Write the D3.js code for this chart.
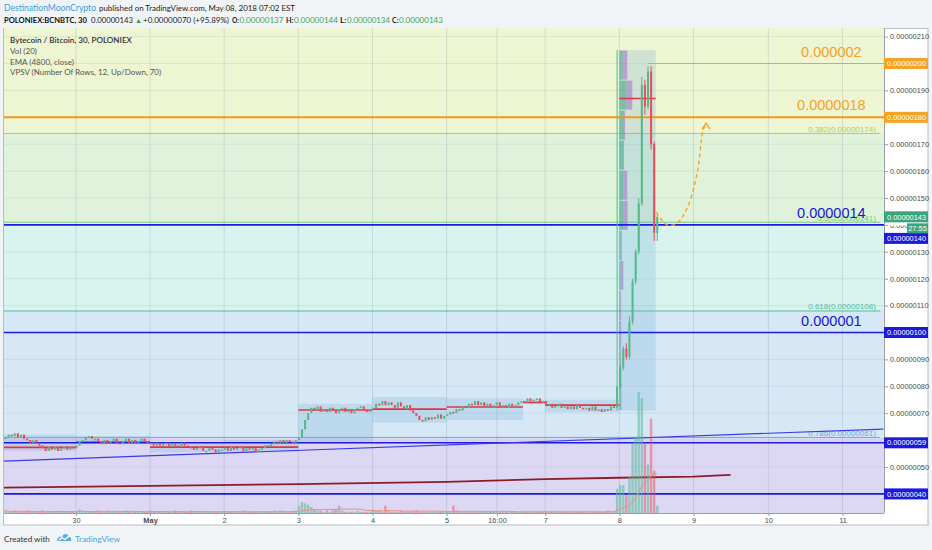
<!DOCTYPE html>
<html>
<head>
<meta charset="utf-8">
<script src="https://cdnjs.cloudflare.com/ajax/libs/d3/7.8.5/d3.min.js"></script>
<style>
html, body { margin: 0; padding: 0; background: #f1f4f7; }
svg { display: block; font-family: "Liberation Sans", Arial, sans-serif; }
</style>
</head>
<body>
<div id="chart"></div>
<script>

// prices in satoshi (1e-8 BTC), time in chart days (0 = Apr 30, 00:00)
var dayLabels = ["30", "May", "2", "3", "4", "5", "16:00", "7", "8", "9", "10", "11"];
var dayTicks  = [0, 1, 2, 3, 4, 5, 5.68, 6.33, 7.33, 8.33, 9.34, 10.34];
var priceTicks = [40, 50, 60, 70, 80, 90, 100, 110, 120, 130, 140, 150, 160, 170, 180, 190, 200, 210];

// hourly closes before the pump
var closesApr29 = [61,62,61.5,62.5,61,62,60.5, 60,59,60,59, 58,57,56,57.5,56.5,57.5,56,57,57.5,56.5,57.5,57];
var closesApr30 = [58,59.5,60,61, 61.5,60.5,60.5, 59.5,58.5,60,59,59.5,60.5,59,58.5, 59.5,60.5,59,60,59,59.5,60.5,59.5,59];
var closesMay1  = [59,58,59,58,58.5,59,57.5,58.5,58,57.5,59,58,57.5,57,56.5,57,57.5,56,56,57,56.5,55.5,56.5,56.5];
var closesMay2  = [57,56,57.5,56.5,57,57.5,56,57,56.5,57, 55.5,56.5, 57,58,57.5,58.5,59.5,59,60,59,60, 59.5,59,60];
var closesMay3  = [61,64,67.5,70,72,71,72.5,70.5,71.5,70.5,72,71,70,71.5,72,70.5,71,70,71.5,72,72.5,71,70.5,71.5];
var closesMay4  = [72,73.5,73,74.5,73,74, 73,72,74,72.5,71.5,73, 71,70,69,67.5,67, 68.5,67.5,68.5,68,69.5,68,69];
var closesMay5to8 = [69.5,70.5,70,71.5,71,72.5,72, 73.5,73,74.5,
	73,74,72.5,73.5,72,73,74,72.5,73,72,73.5,72.5,73,74,
	74.5,74,75.5,74.5,75,75.5,74, 74.5,73,73.5,72,72.5,
	73.5,72,72.5,71.5,72.5,71.5,73,72,71.5,72,71,72.5,71,71.5,70.5,71.5,71,72.5,72];

var volsApr29 = [2,1,1,2,1,1,1,2,1,1,1,1,2,1,1,1,1,1,2,1,1,1,1];
var volsApr30 = [1,3,2,1,1,1,1,2,1,1,2,1,1,1,1,1,2,1,1,1,1,1,1,1];
var volsMay1  = [2,1,1,1,1,1,1,1,2,1,1,1,1,2,1,1,1,1,1,1,1,1,1,1];
var volsMay2  = [1,1,1,1,1,1,2,1,1,1,1,1,1,1,1,1,2,1,2,1,1,1,1,2];
var volsMay3  = [6,9,8,7,5,3,2,2,1,2,1,2,3,6,2,1,1,1,1,2,1,1,1,1];
var volsMay4  = [3,2,2,1,6,2,1,1,1,2,1,1,1,1,2,1,1,1,1,1,1,1,1,1];
var volsMay5to8 = [1,1,6,2,1,1,1,1,1,1,1,1,1,1,1,1,1,1,1,1,1,1,1,1,1,1,1,1,
	1,1,1,1,1,1,1,1,1,1,1,1,1,1,1,1,1,1,1,1,1,1,1,1,2,1,1];

// the pump on May 8
var spikeO = [72, 80, 87, 94, 91, 104, 119, 130, 148, 192, 184, 197, 170, 137];
var spikeH = [205, 88, 95, 96, 106, 120, 131, 150, 195, 194, 199, 199, 171, 144];
var spikeL = [71, 79, 86, 90, 90, 103, 118, 129, 147, 181, 183, 168, 134, 134];
var spikeC = [80, 87, 94, 91, 104, 119, 130, 148, 192, 184, 197, 170, 137, 143];
var spikeV = [20, 23, 23, 15, 30, 58, 63, 100, 95, 58, 40, 78, 35, 6];

// VPSV sessions
var sesStart = [-0.97, 0, 1, 2, 3, 4, 5, 6.03, 6.33, 7.33];
var sesEnd   = [0, 1, 2, 3, 4, 5, 6.03, 6.33, 7.33, 7.82];
var sesLow   = [56, 58.5, 55.5, 55.5, 59, 66.5, 67.5, 73.5, 70.4, 71];
var sesHigh  = [62, 61.5, 59, 60, 73.5, 76, 75.5, 75, 75, 205];
var sesPoc   = [57.3, 59.3, 57.4, 57.4, 71.2, 71.5, 72.3, 74, 73, 187];
// profile rows of the last session, top to bottom
var vpUp   = [9, 20, 13, 10, 12, 10, 4, 4, 3, 3, 3, 4];
var vpDown = [13, 16, 3, 3, 10, 13, 3, 7, 2, 2, 2, 2];

// EMA (4800, close)
var emaT = [-0.97, 1, 3, 5, 6.33, 7.33, 8.33, 8.83];
var emaV = [42.3, 43.0, 43.6, 44.5, 45.5, 46.0, 46.4, 47.1];

// fibonacci retracement
var fibRatio = [0.382, 0.5, 0.618, 0.786];
var fibPrice = [174, 141, 108, 61];

// drawings
var levelPrice = [200, 180, 140, 100, 59, 40];
var levelFrom  = [7.72, -0.97, -0.97, -0.97, -0.97, -0.97];
var levelText  = ["0.000002", "0.0000018", "0.0000014", "0.000001", "", ""];
var trendT = [-0.97, 10.89];
var trendV = [52.2, 64.1];
var arrowT = [7.83, 7.98, 8.11, 8.25, 8.38, 8.46, 8.50];
var arrowV = [144.8, 139.9, 140.7, 146.6, 159.3, 175.2, 177.8];

var lastPrice = 143;
var countdown = "27:55";

// ---------------------------------------------------------------

var closes = [].concat(closesApr29, closesApr30, closesMay1, closesMay2, closesMay3, closesMay4, closesMay5to8);
var vols = [].concat(volsApr29, volsApr30, volsMay1, volsMay2, volsMay3, volsMay4, volsMay5to8);

var t0 = -0.95, step = 1 / 24;
var bars = closes.map((c, i) => {
	var o = i ? closes[i - 1] : c;
	return { t: t0 + i * step, o: o, h: Math.max(o, c), l: Math.min(o, c), c: c, v: vols[i] };
});
spikeC.forEach((c, i) => {
	bars.push({ t: t0 + (closes.length + i) * step, o: spikeO[i], h: spikeH[i], l: spikeL[i], c: c, v: spikeV[i] });
});

var UP = "#53b987", DOWN = "#eb4d5c", BLUE = "#1b1be0", ORANGE = "#f4a324";
var bandColors = ["#eef5d3", "#dff3da", "#d9f3ee", "#d6e8f5", "#dcd8f3"];
var fibColors = ["#a9cf63", "#79c77c", "#52bd9c", "#6aa6e3"];
var levelColors = [ORANGE, "#f09a1a", BLUE, BLUE, BLUE, BLUE];
var levelWidths = [1.2, 2, 1.6, 1.6, 1.6, 1.6];

const margin = { left: 4, right: 884, top: 28, bottom: 513 };

var svg = d3.select("#chart").append("svg")
	.attr("width", 932)
	.attr("height", 550);

var x = d3.scaleLinear([-0.97, 10.9], [margin.left, margin.right]);
var y = d3.scaleLinear([32.9, 213.2], [margin.bottom, margin.top]);
var yv = d3.scaleLinear([0, 100], [margin.bottom, 392]);
var wv = d3.scaleLinear([0, 100], [0, 36]);

// shrink a text so that it fills no more than the given width
function fit(sel, maxSize) {
	sel.each(function(d) {
		var node = d3.select(this).attr("font-size", maxSize);
		var w = this.getComputedTextLength();
		if (w > d.w)
			node.attr("font-size", (maxSize * d.w / w).toFixed(2));
	});
}

svg.append("rect").attr("width", 932).attr("height", 550).attr("fill", "#f1f4f7");

// header
var header = [
	{ s: "DestinationMoonCrypto", x: 4, w: 92, c: "#3d9ed9", b: "normal", y: 10.5 },
	{ s: "published on TradingView.com, May 08, 2018 07:02 EST", x: 99, w: 196, c: "#222", b: "normal", y: 10.5 },
	{ s: "POLONIEX:BCNBTC, 30", x: 4, w: 83, c: "#111", b: "bold", y: 22.5 },
	{ s: "0.00000143", x: 91, w: 42, c: "#222", b: "normal", y: 22.5 },
	{ s: "\u25B2", x: 135, w: 7, c: "#2e9e4e", b: "normal", y: 22.5 },
	{ s: "+0.00000070 (+95.89%)", x: 143, w: 86, c: "#222", b: "normal", y: 22.5 },
	{ s: "O:", x: 232, w: 7, c: "#222", b: "bold", y: 22.5 },
	{ s: "0.00000137", x: 239.5, w: 44, c: "#3aa65a", b: "normal", y: 22.5 },
	{ s: "H:", x: 286, w: 7.5, c: "#222", b: "bold", y: 22.5 },
	{ s: "0.00000144", x: 294, w: 44, c: "#3aa65a", b: "normal", y: 22.5 },
	{ s: "L:", x: 340, w: 6.5, c: "#222", b: "bold", y: 22.5 },
	{ s: "0.00000134", x: 347, w: 43, c: "#3aa65a", b: "normal", y: 22.5 },
	{ s: "C:", x: 392, w: 6.5, c: "#222", b: "bold", y: 22.5 },
	{ s: "0.00000143", x: 399, w: 44, c: "#3aa65a", b: "normal", y: 22.5 }
];
svg.selectAll(".hdr")
	.data(header)
	.join("text")
		.attr("x", d => d.x)
		.attr("y", d => d.y)
		.attr("font-family", "Lato, sans-serif")
		.attr("font-weight", d => d.b)
		.attr("fill", d => d.c)
		.text(d => d.s)
		.call(fit, 10);

// frame
svg.append("rect")
	.attr("x", 3.5).attr("y", 28.5).attr("width", 924.5).attr("height", 496.5)
	.attr("fill", "#fff").attr("stroke", "#b9bdc4");

svg.append("clipPath").attr("id", "clip")
	.append("rect")
	.attr("x", margin.left).attr("y", margin.top)
	.attr("width", margin.right - margin.left).attr("height", margin.bottom - margin.top);

var g = svg.append("g").attr("clip-path", "url(#clip)");

// fib bands
var edges = [y.domain()[1]].concat(fibPrice, [y.domain()[0]]);
g.selectAll(".band")
	.data(bandColors)
	.join("rect")
		.attr("class", "band")
		.attr("x", margin.left)
		.attr("width", margin.right - margin.left)
		.attr("y", (d, i) => y(edges[i]))
		.attr("height", (d, i) => y(edges[i + 1]) - y(edges[i]))
		.attr("fill", d => d);

// grid
g.selectAll(".vgrid")
	.data(dayTicks)
	.join("line")
		.attr("x1", d => x(d)).attr("x2", d => x(d))
		.attr("y1", margin.top).attr("y2", margin.bottom)
		.attr("stroke", "rgba(110,130,165,0.22)");

g.selectAll(".hgrid")
	.data(priceTicks)
	.join("line")
		.attr("x1", margin.left).attr("x2", margin.right)
		.attr("y1", d => y(d)).attr("y2", d => y(d))
		.attr("stroke", "rgba(110,130,165,0.13)");

// fib lines and labels
g.selectAll(".fib")
	.data(fibPrice)
	.join("line")
		.attr("x1", margin.left).attr("x2", x(10.85))
		.attr("y1", d => y(d)).attr("y2", d => y(d))
		.attr("stroke", (d, i) => fibColors[i]);

g.selectAll(".fibtxt")
	.data(fibPrice)
	.join("text")
		.attr("x", x(10.79))
		.attr("y", d => y(d) - 1.5)
		.attr("text-anchor", "end")
		.attr("font-size", 8)
		.attr("fill", (d, i) => fibColors[i])
		.text((d, i) => fibRatio[i] + "(" + (d / 1e8).toFixed(8) + ")");

// VPSV session boxes
g.selectAll(".ses")
	.data(sesStart)
	.join("rect")
		.attr("x", d => x(d))
		.attr("width", (d, i) => x(sesEnd[i]) - x(d))
		.attr("y", (d, i) => y(sesHigh[i]))
		.attr("height", (d, i) => y(sesLow[i]) - y(sesHigh[i]))
		.attr("fill", "rgba(115,170,215,0.25)");

var last = sesStart.length - 1;
var rowH = (sesHigh[last] - sesLow[last]) / vpUp.length;
g.selectAll(".vpup")
	.data(vpUp)
	.join("rect")
		.attr("x", x(sesStart[last]))
		.attr("y", (d, i) => y(sesHigh[last] - i * rowH) + 0.5)
		.attr("height", y(0) - y(rowH) - 1)
		.attr("width", d => wv(d))
		.attr("fill", "rgba(60,170,140,0.6)");
g.selectAll(".vpdn")
	.data(vpDown)
	.join("rect")
		.attr("x", (d, i) => x(sesStart[last]) + wv(vpUp[i]))
		.attr("y", (d, i) => y(sesHigh[last] - i * rowH) + 0.5)
		.attr("height", y(0) - y(rowH) - 1)
		.attr("width", d => wv(d))
		.attr("fill", "rgba(170,110,200,0.55)");

g.selectAll(".poc")
	.data(sesPoc)
	.join("line")
		.attr("x1", (d, i) => x(sesStart[i])).attr("x2", (d, i) => x(sesEnd[i]))
		.attr("y1", d => y(d)).attr("y2", d => y(d))
		.attr("stroke", "#e2343f").attr("stroke-width", 1.6);

// horizontal levels
g.selectAll(".level")
	.data(levelPrice)
	.join("line")
		.attr("x1", (d, i) => x(levelFrom[i])).attr("x2", margin.right)
		.attr("y1", d => y(d)).attr("y2", d => y(d))
		.attr("stroke", (d, i) => levelColors[i])
		.attr("stroke-width", (d, i) => levelWidths[i]);

// trend line
g.append("path")
	.attr("d", d3.line((d, i) => x(d), (d, i) => y(trendV[i]))(trendT))
	.attr("stroke", "#3a3ae6").attr("stroke-width", 1.2).attr("fill", "none");

// EMA
g.append("path")
	.attr("d", d3.line((d, i) => x(d), (d, i) => y(emaV[i]))(emaT))
	.attr("stroke", "#8b1c2a").attr("stroke-width", 1.8).attr("fill", "none");

// volume
g.selectAll(".vol")
	.data(bars)
	.join("rect")
		.attr("x", d => x(d.t) - 1.2)
		.attr("width", 2.4)
		.attr("y", d => yv(d.v))
		.attr("height", d => margin.bottom - yv(d.v))
		.attr("fill", d => d.c >= d.o ? "rgba(83,185,150,0.55)" : "rgba(235,77,92,0.5)");

var volma = bars.map((d, i) => ({ t: d.t, v: d3.mean(bars.slice(Math.max(0, i - 19), i + 1), b => b.v) }));
g.append("path")
	.attr("d", d3.line(d => x(d.t), d => yv(d.v))(volma))
	.attr("stroke", "#ee8f80").attr("stroke-width", 1).attr("fill", "none");

// candles
g.selectAll(".wick")
	.data(bars)
	.join("line")
		.attr("x1", d => x(d.t)).attr("x2", d => x(d.t))
		.attr("y1", d => y(d.h)).attr("y2", d => y(d.l))
		.attr("stroke", d => d.c >= d.o ? UP : DOWN);

g.selectAll(".body")
	.data(bars)
	.join("rect")
		.attr("x", d => x(d.t) - 1)
		.attr("width", 2)
		.attr("y", d => y(Math.max(d.o, d.c)))
		.attr("height", d => Math.max(1.6, Math.abs(y(d.o) - y(d.c))))
		.attr("fill", d => d.c >= d.o ? UP : DOWN);

// projected move
g.append("path")
	.attr("d", d3.line((d, i) => x(d), (d, i) => y(arrowV[i])).curve(d3.curveCatmullRom)(arrowT))
	.attr("stroke", ORANGE).attr("stroke-width", 1.4).attr("stroke-dasharray", "4,3").attr("fill", "none");
var ax = x(arrowT[arrowT.length - 1]), ay = y(arrowV[arrowV.length - 1]);
g.append("path")
	.attr("d", `M${ax - 4},${ay + 6}L${ax},${ay}L${ax + 4},${ay + 6}`)
	.attr("stroke", ORANGE).attr("stroke-width", 1.4).attr("fill", "none");

// level captions
g.selectAll(".lvltxt")
	.data(levelText.filter(d => d))
	.join("text")
		.attr("x", x(10.19))
		.attr("y", (d, i) => y(levelPrice[i]) - 7)
		.attr("text-anchor", "middle")
		.attr("font-size", 14.5)
		.attr("fill", (d, i) => i < 2 ? ORANGE : "#1616d6")
		.text(d => d);

// legend
var legend = [
	{ s: "Bytecoin / Bitcoin, 30, POLONIEX", w: 122, c: "#333", b: "600" },
	{ s: "Vol (20)", w: 27, c: "#555", b: "normal" },
	{ s: "EMA (4800, close)", w: 64, c: "#555", b: "normal" },
	{ s: "VPSV (Number Of Rows, 12, Up/Down, 70)", w: 151, c: "#555", b: "normal" }
];
svg.selectAll(".legend")
	.data(legend)
	.join("text")
		.attr("x", 10)
		.attr("y", (d, i) => 43 + i * 10.8)
		.attr("font-family", "Lato, sans-serif")
		.attr("font-weight", d => d.b)
		.attr("fill", d => d.c)
		.text(d => d.s)
		.call(fit, 9.6);

// price tags on the axis
var tags = [
	{ v: 200, color: ORANGE, shift: 0 },
	{ v: 180, color: ORANGE, shift: 0 },
	{ v: lastPrice, color: "#3aa57c", shift: 0 },
	{ v: 140, color: BLUE, shift: 13.5 },
	{ v: 100, color: BLUE, shift: 0 },
	{ v: 59, color: BLUE, shift: 0 },
	{ v: 40, color: BLUE, shift: 0 }
];
// tick labels hidden behind a tag are left empty
var hidden = d => tags.some(t => Math.abs(y(d) - y(t.v) - t.shift) < 8);

// axes
svg.append("clipPath").attr("id", "axclip")
	.append("rect").attr("x", margin.right).attr("y", 0).attr("width", 907 - margin.right).attr("height", 550);

var yaxis = svg.append("g")
	.attr("transform", `translate(${margin.right},0)`)
	.call(d3.axisRight(y).tickValues(priceTicks).tickSize(4).tickPadding(2)
		.tickFormat(d => hidden(d) ? "" : (d / 1e8).toFixed(8)));
yaxis.select(".domain").attr("d", `M0.5,${margin.top}V${margin.bottom}`).attr("stroke", "#9a9ea6");
yaxis.selectAll(".tick line").attr("stroke", "#9a9ea6");
yaxis.selectAll("text").attr("font-size", 7.4).attr("fill", "#4a4a4a");
// the label under the countdown shows only in part
yaxis.selectAll(".tick").filter(d => d === 140).select("text")
	.attr("transform", `translate(${-margin.right},0)`)
	.attr("x", margin.right + 6)
	.attr("clip-path", "url(#axclip)");

var xaxis = svg.append("g")
	.attr("transform", `translate(0,${margin.bottom})`)
	.call(d3.axisBottom(x).tickValues(dayTicks).tickSize(3).tickPadding(2).tickFormat((d, i) => dayLabels[i]));
xaxis.select(".domain").attr("d", `M${margin.left},0.5H${margin.right}`).attr("stroke", "#9a9ea6");
xaxis.selectAll(".tick line").attr("stroke", "#9a9ea6");
xaxis.selectAll("text").attr("font-size", 7.4).attr("fill", "#4a4a4a")
	.attr("font-weight", (d, i) => dayLabels[i] === "May" ? "bold" : "normal");

var tag = svg.selectAll(".tag")
	.data(tags)
	.join("g")
		.attr("transform", d => `translate(${margin.right},${y(d.v) + d.shift})`);
tag.append("rect")
	.attr("x", 0).attr("y", -5.5).attr("width", 44).attr("height", 11)
	.attr("fill", d => d.color);
tag.append("text")
	.attr("x", 3).attr("y", 2.7)
	.attr("font-size", 7.4).attr("fill", "#fff")
	.text(d => (d.v / 1e8).toFixed(8));

svg.append("rect")
	.attr("x", 907).attr("y", y(lastPrice) + 6.5).attr("width", 21).attr("height", 10)
	.attr("fill", "#3aa57c");
svg.append("text")
	.attr("x", 917.5).attr("y", y(lastPrice) + 14.2)
	.attr("text-anchor", "middle").attr("font-size", 7.4).attr("fill", "#fff")
	.text(countdown);

// footer
var footer = [
	{ s: "Created with", x: 4, w: 46, c: "#333" },
	{ s: "TradingView", x: 75, w: 45, c: "#4aa3df" }
];
svg.selectAll(".foot")
	.data(footer)
	.join("text")
		.attr("x", d => d.x)
		.attr("y", 541.5)
		.attr("font-family", "Lato, sans-serif")
		.attr("fill", d => d.c)
		.text(d => d.s)
		.call(fit, 10);

var logo = svg.append("g").attr("transform", "translate(57,533)");
logo.append("path")
	.attr("d", "M0,8 C0,4 3,3 5,4 C6,0 11,0 12,4 C14,4 15,6 14,8 Z")
	.attr("fill", "#5aaee2");
logo.append("path")
	.attr("d", "M2,7 L5,4.5 L8,6.5 L12,3")
	.attr("stroke", "#fff").attr("stroke-width", 1.2).attr("fill", "none");

</script>
</body>
</html>
